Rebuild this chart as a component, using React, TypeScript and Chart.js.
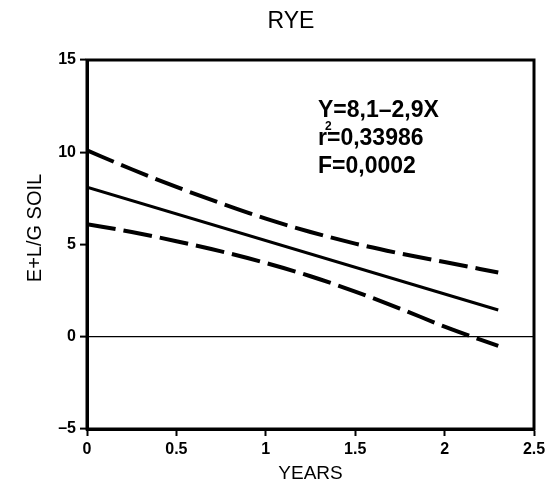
import { useEffect, useRef } from "react";
import { Chart, registerables } from "chart.js";

Chart.register(...registerables);

const titleText = "RYE";
const xAxisLabel = "YEARS";
const yAxisLabel = "E+L/G SOIL";

// regression line end points
const fitX = [0, 2.3];
const fitY = [8.1, 1.45];

// confidence band
const bandX = [0, 0.25, 0.5, 0.75, 1.0, 1.25, 1.5, 1.75, 2.0, 2.3];
const upperBand = [10.1, 9.08, 8.12, 7.23, 6.4, 5.68, 5.05, 4.52, 4.05, 3.48];
const lowerBand = [6.1, 5.68, 5.18, 4.63, 4.0, 3.28, 2.45, 1.53, 0.55, -0.5];

const xTicks = [0, 0.5, 1, 1.5, 2, 2.5];
const yTicks = [-5, 0, 5, 10, 15];

const equationText = "Y=8,1\u20132,9X";
const r2Prefix = "r";
const r2Sup = "2";
const r2Value = "=0,33986";
const fText = "F=0,0002";

const FONT = "'Liberation Sans', Arial, sans-serif";

export default function App() {
  const ref = useRef<HTMLCanvasElement | null>(null);

  useEffect(() => {
    if (!ref.current) return;

    const textPlugin = {
      id: "texts",
      afterDraw(chart: any) {
        const { ctx, chartArea } = chart;
        ctx.save();
        // frame
        ctx.strokeStyle = "#000";
        ctx.lineWidth = 3;
        ctx.strokeRect(chartArea.left, chartArea.top, chartArea.right - chartArea.left, chartArea.bottom - chartArea.top);
        ctx.fillStyle = "#000";
        // title
        ctx.font = `23px ${FONT}`;
        ctx.textAlign = "center";
        ctx.textBaseline = "middle";
        ctx.fillText(titleText, 291, 22);
        // y label
        ctx.save();
        ctx.translate(35, 228);
        ctx.rotate(-Math.PI / 2);
        ctx.font = `20px ${FONT}`;
        ctx.fillText(yAxisLabel, 0, 0);
        ctx.restore();
        // annotation
        ctx.textAlign = "left";
        ctx.textBaseline = "alphabetic";
        ctx.font = `bold 23px ${FONT}`;
        const ax = 318;
        ctx.fillText(equationText, ax, 117);
        ctx.fillText(r2Prefix, ax, 145);
        const rw = ctx.measureText(r2Prefix).width;
        ctx.fillText(r2Value, ax + rw, 145);
        ctx.fillText(fText, ax, 173);
        ctx.font = `bold 12px ${FONT}`;
        ctx.fillText(r2Sup, ax + rw - 2, 130);
        ctx.restore();
      },
    };

    const tickFont = { family: FONT, size: 16, weight: "bold" as const };

    const chart = new Chart(ref.current, {
      type: "scatter",
      data: {
        datasets: [
          {
            data: fitX.map((x, i) => ({ x, y: fitY[i] })),
            showLine: true,
            borderColor: "#000",
            borderWidth: 3,
            pointRadius: 0,
          },
          {
            data: bandX.map((x, i) => ({ x, y: upperBand[i] })),
            showLine: true,
            borderColor: "#000",
            borderWidth: 4,
            borderDash: [29, 8],
            cubicInterpolationMode: "monotone",
            pointRadius: 0,
          },
          {
            data: bandX.map((x, i) => ({ x, y: lowerBand[i] })),
            showLine: true,
            borderColor: "#000",
            borderWidth: 4,
            borderDash: [29, 8],
            cubicInterpolationMode: "monotone",
            pointRadius: 0,
          },
        ],
      },
      options: {
        responsive: false,
        animation: false,
        devicePixelRatio: 1,
        layout: { padding: { top: 60, right: 26, bottom: 0, left: 0 } },
        plugins: {
          legend: { display: false },
          tooltip: { enabled: false },
          title: { display: false },
        },
        scales: {
          x: {
            type: "linear",
            min: 0,
            max: 2.5,
            afterBuildTicks: (s: any) => {
              s.ticks = xTicks.map((v) => ({ value: v }));
            },
            afterFit: (s: any) => {
              s.height = 57;
            },
            ticks: {
              color: "#000",
              font: tickFont,
              padding: 4,
              maxRotation: 0,
              autoSkip: false,
              callback: (v: any) => String(v),
            },
            grid: {
              display: true,
              drawOnChartArea: false,
              tickLength: 7,
              tickColor: "#000",
              tickWidth: 2,
            },
            border: { display: true, color: "#000", width: 3 },
            title: {
              display: true,
              text: xAxisLabel,
              color: "#000",
              font: { family: FONT, size: 19 },
              padding: { top: 0, bottom: 1 },
            },
          },
          y: {
            type: "linear",
            min: -5,
            max: 15,
            afterBuildTicks: (s: any) => {
              s.ticks = yTicks.map((v) => ({ value: v }));
            },
            afterFit: (s: any) => {
              s.width = 87;
            },
            ticks: {
              color: "#000",
              font: tickFont,
              padding: 4,
              autoSkip: false,
              callback: (v: any) => (Number(v) < 0 ? "\u2013" + Math.abs(Number(v)) : String(v)),
            },
            grid: {
              display: true,
              drawOnChartArea: true,
              color: (c: any) => (c.tick && c.tick.value === 0 ? "#000" : "rgba(0,0,0,0)"),
              lineWidth: 1.2,
              tickLength: 7,
              tickColor: "#000",
              tickWidth: 2,
            },
            border: { display: true, color: "#000", width: 3 },
          },
        },
      },
      plugins: [textPlugin],
    } as any);

    return () => chart.destroy();
  }, []);

  return (
    <div style={{ position: "fixed", left: 0, top: 0, width: 560, height: 486, background: "#fff" }}>
      <canvas ref={ref} width={560} height={486} style={{ display: "block" }} />
    </div>
  );
}
